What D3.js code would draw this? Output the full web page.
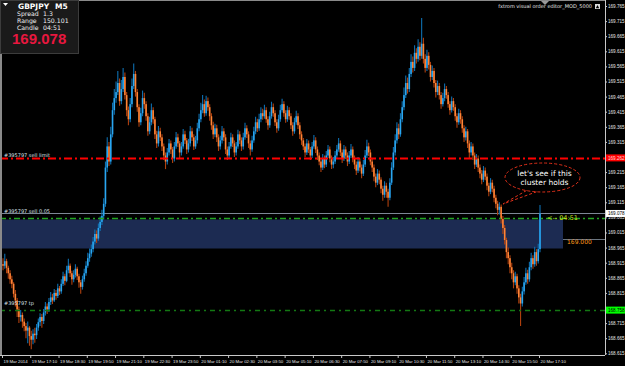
<!DOCTYPE html>
<html><head><meta charset="utf-8">
<script src="https://cdn.jsdelivr.net/npm/d3@7/dist/d3.min.js"></script>
<style>html,body{margin:0;padding:0;background:#000;overflow:hidden}svg{display:block}</style>
</head><body><svg id="c" width="625" height="366"></svg>
<script>
const symbol = "GBPJPY", timeframe = "M5";
const infoLabels = ["Spread", "Range", "Candle"];
const infoValues = ["1.3", "150.101", "04:51"];
const bidPrice = 169.078;
const firstOpen = 168.910;
const closes = [
168.905,168.920,168.898,168.880,168.860,168.845,168.812,168.790,168.760,168.735,
168.742,168.720,168.705,168.690,168.700,168.672,168.660,168.680,168.675,168.700,
168.718,168.735,168.722,168.750,168.770,168.760,168.785,168.800,168.790,168.815,
168.805,168.830,168.820,168.845,168.870,168.855,168.890,168.905,168.880,168.860,
168.875,168.895,168.870,168.850,168.835,168.860,168.880,168.905,168.930,168.945,
168.960,168.985,169.010,168.995,169.030,169.050,169.070,169.110,169.230,169.300,
169.250,169.340,169.420,169.460,169.480,169.510,169.450,169.490,169.530,169.470,
169.420,169.390,169.440,169.500,169.540,169.480,169.430,169.380,169.410,169.460,
169.440,169.400,169.350,169.380,169.420,169.390,169.340,169.310,169.350,169.330,
169.300,169.270,169.250,169.280,169.310,169.290,169.260,169.300,169.330,169.310,
169.280,169.300,169.340,169.320,169.290,169.310,169.350,169.330,169.300,169.320,
169.360,169.390,169.420,169.440,169.410,169.450,169.430,169.400,169.370,169.340,
169.360,169.330,169.300,169.320,169.350,169.330,169.290,169.270,169.300,169.330,
169.310,169.280,169.300,169.340,169.320,169.300,169.330,169.360,169.340,169.310,
169.290,169.320,169.350,169.380,169.360,169.390,169.410,169.400,169.420,169.390,
169.370,169.400,169.430,169.410,169.380,169.360,169.390,169.420,169.440,169.410,
169.390,169.420,169.400,169.370,169.350,169.380,169.400,169.370,169.340,169.320,
169.300,169.280,169.310,169.290,169.270,169.300,169.320,169.290,169.270,169.250,
169.230,169.260,169.240,169.270,169.290,169.260,169.240,169.250,169.270,169.290,
169.310,169.280,169.260,169.290,169.270,169.250,169.270,169.290,169.260,169.240,
169.220,169.250,169.230,169.210,169.240,169.270,169.300,169.280,169.250,169.230,
169.200,169.180,169.210,169.190,169.160,169.140,169.170,169.150,169.130,169.180,
169.230,169.280,169.320,169.360,169.340,169.390,169.430,169.470,169.510,169.490,
169.540,169.580,169.560,169.610,169.590,169.630,169.600,169.640,169.590,169.560,
169.600,169.570,169.530,169.550,169.510,169.480,169.500,169.470,169.440,169.460,
169.490,169.470,169.440,169.420,169.450,169.430,169.400,169.380,169.410,169.390,
169.360,169.330,169.350,169.310,169.280,169.300,169.270,169.240,169.260,169.230,
169.210,169.190,169.220,169.200,169.170,169.150,169.180,169.160,169.130,169.110,
169.090,169.100,169.060,169.030,168.990,168.950,168.930,168.900,168.880,168.850,
168.870,168.830,168.800,168.780,168.820,168.850,168.880,168.860,168.900,168.930,
168.910,168.950,168.920,168.960,169.078];
const highs = [
168.930,168.945,168.928,168.905,168.890,168.872,168.850,168.825,168.798,168.770,
168.758,168.750,168.730,168.715,168.720,168.705,168.690,168.695,168.700,168.712,
168.730,168.748,168.745,168.762,168.785,168.780,168.798,168.818,168.812,168.828,
168.825,168.845,168.838,168.860,168.885,168.878,168.905,168.928,168.912,168.888,
168.890,168.910,168.902,168.878,168.858,168.872,168.895,168.920,168.948,168.962,
168.975,169.000,169.025,169.022,169.045,169.068,169.090,169.128,169.250,169.330,
169.315,169.365,169.445,169.490,169.515,169.550,169.525,169.520,169.560,169.545,
169.480,169.432,169.460,169.525,169.575,169.550,169.490,169.440,169.428,169.485,
169.478,169.450,169.410,169.398,169.442,169.430,169.398,169.352,169.368,169.362,
169.340,169.310,169.280,169.295,169.325,169.320,169.298,169.315,169.348,169.342,
169.318,169.315,169.358,169.352,169.328,169.325,169.368,169.362,169.340,169.335,
169.378,169.408,169.445,169.470,169.455,169.468,169.462,169.440,169.410,169.382,
169.375,169.372,169.340,169.335,169.368,169.360,169.340,169.300,169.315,169.345,
169.340,169.320,169.315,169.355,169.350,169.330,169.345,169.378,169.370,169.350,
169.320,169.335,169.365,169.398,169.392,169.408,169.430,169.425,169.438,169.430,
169.400,169.415,169.448,169.442,169.420,169.390,169.405,169.438,169.458,169.450,
169.420,169.435,169.430,169.410,169.380,169.395,169.418,169.410,169.380,169.350,
169.328,169.310,169.325,169.320,169.298,169.315,169.338,169.330,169.300,169.280,
169.262,169.275,169.270,169.285,169.305,169.300,169.270,169.265,169.285,169.305,
169.328,169.320,169.290,169.305,169.300,169.280,169.285,169.308,169.300,169.270,
169.250,169.265,169.260,169.240,169.255,169.288,169.322,169.312,169.290,169.260,
169.240,169.210,169.225,169.220,169.198,169.170,169.185,169.180,169.160,169.195,
169.248,169.298,169.340,169.380,169.375,169.410,169.450,169.495,169.535,169.528,
169.560,169.605,169.598,169.635,169.625,169.655,169.645,169.725,169.660,169.605,
169.620,169.612,169.580,169.568,169.560,169.520,169.518,169.510,169.480,169.478,
169.508,169.500,169.480,169.450,169.465,169.460,169.440,169.410,169.425,169.420,
169.400,169.370,169.365,169.358,169.320,169.315,169.310,169.280,169.275,169.270,
169.240,169.222,169.235,169.230,169.210,169.180,169.195,169.190,169.170,169.140,
169.120,169.115,169.108,169.070,169.040,168.998,168.965,168.940,168.915,168.890,
168.885,168.878,168.840,168.812,168.835,168.868,168.898,168.892,168.918,168.948,
168.940,168.968,168.960,168.978,169.106];
const lows = [
168.890,168.895,168.880,168.862,168.845,168.830,168.800,168.770,168.735,168.715,
168.720,168.700,168.688,168.665,168.648,168.640,168.628,168.645,168.650,168.662,
168.690,168.705,168.700,168.712,168.740,168.745,168.752,168.775,168.778,168.785,
168.792,168.798,168.808,168.812,168.838,168.840,168.850,168.880,168.868,168.842,
168.850,168.866,168.858,168.832,168.812,168.826,168.852,168.872,168.898,168.918,
168.935,168.950,168.975,168.980,168.988,169.020,169.040,169.058,169.100,169.215,
169.235,169.240,169.330,169.405,169.445,169.470,169.435,169.440,169.480,169.455,
169.400,169.370,169.380,169.430,169.490,169.465,169.415,169.365,169.370,169.400,
169.425,169.385,169.335,169.340,169.370,169.375,169.325,169.295,169.300,169.318,
169.285,169.255,169.225,169.240,169.270,169.275,169.245,169.250,169.292,169.298,
169.262,169.270,169.292,169.308,169.275,169.280,169.300,169.318,169.288,169.292,
169.310,169.350,169.380,169.410,169.398,169.402,169.418,169.385,169.355,169.325,
169.330,169.315,169.285,169.290,169.310,169.318,169.275,169.255,169.262,169.292,
169.298,169.265,169.270,169.292,169.308,169.285,169.290,169.322,169.328,169.295,
169.270,169.282,169.312,169.340,169.348,169.352,169.380,169.388,169.392,169.378,
169.355,169.362,169.392,169.398,169.368,169.345,169.352,169.382,169.412,169.398,
169.378,169.382,169.388,169.358,169.335,169.342,169.372,169.358,169.325,169.305,
169.288,169.265,169.272,169.278,169.255,169.262,169.292,169.278,169.255,169.238,
169.215,169.222,169.228,169.232,169.262,169.248,169.225,169.228,169.242,169.262,
169.282,169.268,169.245,169.252,169.258,169.235,169.242,169.262,169.248,169.225,
169.205,169.212,169.218,169.195,169.202,169.232,169.262,169.268,169.238,169.215,
169.185,169.165,169.172,169.175,169.145,169.120,169.130,169.130,169.100,169.122,
169.172,169.222,169.270,169.310,169.325,169.332,169.380,169.420,169.460,169.475,
169.480,169.530,169.545,169.550,169.575,169.580,169.585,169.590,169.575,169.545,
169.550,169.555,169.515,169.520,169.495,169.462,169.470,169.455,169.425,169.432,
169.450,169.458,169.428,169.405,169.412,169.418,169.385,169.362,169.372,169.375,
169.345,169.315,169.320,169.295,169.262,169.270,169.255,169.225,169.232,169.215,
169.195,169.175,169.182,169.188,169.155,169.135,169.142,169.148,169.115,169.095,
169.072,169.075,169.045,169.010,168.975,168.930,168.910,168.880,168.860,168.830,
168.840,168.812,168.780,168.705,168.770,168.810,168.842,168.845,168.852,168.890,
168.895,168.902,168.905,168.912,168.950];
const timeLabels = ["19 Mar 2014","19 Mar 17:10","19 Mar 18:30","19 Mar 19:50","19 Mar 21:10",
"19 Mar 22:30","19 Mar 23:50","20 Mar 01:10","20 Mar 02:30","20 Mar 03:50","20 Mar 05:10",
"20 Mar 06:30","20 Mar 07:50","20 Mar 09:10","20 Mar 10:30","20 Mar 11:50","20 Mar 13:10",
"20 Mar 14:30","20 Mar 15:50","20 Mar 17:10"];
const barsPerLabel = 16;
const priceTicks = [169.765,169.715,169.665,169.615,169.565,169.515,169.465,169.415,169.365,169.315,
169.265,169.215,169.165,169.115,169.065,169.015,168.965,168.915,168.865,168.815,168.765,168.715,168.665,168.615];
const sellLimitPrice = 169.262;
const entryPrice = 169.063;
const takeProfitPrice = 168.758;
const zoneTop = 169.058, zoneBottom = 168.962;
const zoneLevel = 168.995, zoneLevelText = "169.000";
const orderLabels = ["#395797 sell limit", "#395797 sell 0.05", "#395797 tp"];
const timerText = "<-- 04:51";
const noteLines = ["let's see if this", "cluster holds"];
const indicatorName = "fxtrom visual order editor_MOD_5000";

const svg = d3.select("#c");
const W = 625, H = 366, axisX = 605, axisY = 355;
const n = closes.length;
const x = d3.scaleLinear().domain([0, n - 1]).range([3, 540]);
const y = d3.scaleLinear().domain([168.615, 169.765]).range([353.3, 6]);
const font = "Tahoma, 'DejaVu Sans', Arial, sans-serif";
const small = "'Liberation Sans', Arial, sans-serif";
const fmt = d3.format(".3f");

svg.append("rect").attr("width", W).attr("height", H).attr("fill", "#000");

// zone rectangle
svg.append("rect").attr("x", 0).attr("y", y(zoneTop)).attr("width", 563)
  .attr("height", y(zoneBottom) - y(zoneTop)).attr("fill", "#1c2b52");

// bid line
svg.append("line").attr("x1", 0).attr("x2", axisX).attr("y1", Math.round(y(bidPrice)) + 0.5)
  .attr("y2", Math.round(y(bidPrice)) + 0.5).attr("stroke", "#7d8796").attr("stroke-width", 1);
// zone level line
svg.append("line").attr("x1", 563).attr("x2", axisX).attr("y1", Math.round(y(zoneLevel)) + 0.5)
  .attr("y2", Math.round(y(zoneLevel)) + 0.5).attr("stroke", "#6a7580").attr("stroke-width", 1);

// candles
const data = closes.map((c, i) => ({i, o: i ? closes[i - 1] : firstOpen, h: highs[i], l: lows[i], c}));
const cg = svg.append("g");
data.forEach(d => {
  const up = d.c >= d.o;
  const cx = x(d.i);
  cg.append("line").attr("x1", cx).attr("x2", cx).attr("y1", y(d.h)).attr("y2", y(d.l))
    .attr("stroke", up ? "#0e6fb0" : "#b0400e").attr("stroke-width", 1.1);
  const top = y(Math.max(d.o, d.c)), bot = y(Math.min(d.o, d.c));
  cg.append("rect").attr("x", cx - 0.8).attr("width", 1.6).attr("y", top)
    .attr("height", Math.max(1, bot - top)).attr("fill", up ? "#2aa6f0" : "#ff8436");
});

// order lines
function dashLine(price, color, w, dash) {
  const yy = Math.round(y(price)) + 0.5;
  svg.append("line").attr("x1", 0).attr("x2", axisX).attr("y1", yy).attr("y2", yy)
    .attr("stroke", color).attr("stroke-width", w).attr("stroke-dasharray", dash);
}
dashLine(sellLimitPrice, "#ff0000", 2, "8,3,2,3");
dashLine(entryPrice, "#22a522", 1.6, "6,3,2,3");
dashLine(takeProfitPrice, "#137813", 1.4, "5,4,2,4");

// order text labels
[[sellLimitPrice, orderLabels[0]], [entryPrice + 0.012, orderLabels[1]], [takeProfitPrice + 0.012, orderLabels[2]]]
  .forEach(([p, t]) => {
    svg.append("text").attr("x", 4).attr("y", y(p) - 1).attr("fill", "#dde3ea")
      .attr("font-family", font).attr("font-size", 5).text(t);
  });

// timer
svg.append("text").attr("x", 547).attr("y", y(entryPrice) + 2).attr("fill", "#c9e21a")
  .attr("font-family", font).attr("font-size", 6.5).text(timerText);

// zone level text
svg.append("text").attr("x", 567).attr("y", y(zoneLevel) + 5.5).attr("fill", "#ff9a1a")
  .attr("font-family", font).attr("font-size", 6).text(zoneLevelText);

// borders
svg.append("line").attr("x1", 1).attr("x2", 1).attr("y1", 0).attr("y2", axisY).attr("stroke", "#8a8a8a").attr("stroke-width", 2);
svg.append("line").attr("x1", 0).attr("x2", axisX).attr("y1", 0.5).attr("y2", 0.5).attr("stroke", "#8a8a8a").attr("stroke-width", 1);

// price tags on axis
const tags = [[sellLimitPrice, "#ff0000", "#ffd6d6"], [bidPrice, "#ffffff", "#000000"], [takeProfitPrice, "#00ff00", "#000000"]];

// axes
const yAxis = d3.axisRight(y).tickValues(priceTicks).tickFormat(fmt).tickSize(2).tickSizeOuter(0);
const ya = svg.append("g").attr("transform", `translate(${axisX},0)`).call(yAxis);
ya.select(".domain").attr("stroke", "#c8c8c8").attr("d", `M0.5,0V${axisY}`);
ya.selectAll(".tick line").attr("stroke", "#c8c8c8");
ya.selectAll(".tick text").attr("fill", "#e6e6e6").attr("font-family", small).attr("font-size", 4.6)
  .attr("x", 3)
  .style("display", d => tags.some(t => t[0] !== bidPrice && Math.abs(y(t[0]) - y(d)) < 5) ? "none" : null);

const xTicks = timeLabels.map((_, k) => k * barsPerLabel);
const xAxis = d3.axisBottom(x).tickValues(xTicks).tickFormat((d, k) => timeLabels[k]).tickSize(3).tickSizeOuter(0);
const xa = svg.append("g").attr("transform", `translate(0,${axisY})`).call(xAxis);
xa.select(".domain").attr("stroke", "#c8c8c8").attr("d", `M0,0.5H${axisX}`);
xa.selectAll(".tick line").attr("stroke", "#c8c8c8").attr("transform", "translate(-1,0)");
xa.selectAll(".tick text").attr("fill", "#e6e6e6").attr("font-family", small).attr("font-size", 4.3)
  .attr("text-anchor", "start").attr("dx", 0).attr("y", 4.5);

tags.forEach(([price, bg, fg]) => {
  const yy = y(price);
  svg.append("rect").attr("x", axisX + 1).attr("y", yy - 3.5).attr("width", W - axisX - 1).attr("height", 7).attr("fill", bg);
  svg.append("text").attr("x", axisX + 3).attr("y", yy + 1.8).attr("fill", fg).attr("font-family", small)
    .attr("font-size", 4.6).text(fmt(price));
});

// callout ellipse
const cx0 = 542.5, cy0 = 177.5, rx = 37.5, ry = 14.5;
svg.append("path").attr("d",
  `M ${cx0 - 16},${cy0 + ry - 1.5} L 503,204 L ${cx0 - 6},${cy0 + ry - 0.2}`)
  .attr("fill", "none").attr("stroke", "#e0301a").attr("stroke-width", 1).attr("stroke-dasharray", "3,2");
svg.append("ellipse").attr("cx", cx0).attr("cy", cy0).attr("rx", rx).attr("ry", ry)
  .attr("fill", "none").attr("stroke", "#e0301a").attr("stroke-width", 1).attr("stroke-dasharray", "3,2");
noteLines.forEach((t, k) => {
  svg.append("text").attr("x", cx0 + 2).attr("y", 176 + k * 8.5).attr("text-anchor", "middle")
    .attr("fill", "#ffffff").attr("font-family", font).attr("font-size", 7.5).text(t);
});

// indicator name
svg.append("text").attr("x", 592).attr("y", 8).attr("text-anchor", "end").attr("fill", "#e6e6e6")
  .attr("font-family", font).attr("font-size", 5).text(indicatorName);
svg.append("rect").attr("x", 595).attr("y", 4).attr("width", 5).attr("height", 5).attr("fill", "#dcdcdc");
svg.append("path").attr("d", "M595.8,8.2 L597.5,5 L599.2,8.2 Z").attr("fill", "#000");
svg.append("path").attr("d", "M541,1 L549,1 L545,5 Z").attr("fill", "#9a9a9a");

// info panel
svg.append("rect").attr("x", 0.5).attr("y", 0.5).attr("width", 78).attr("height", 53)
  .attr("fill", "#1a1a1a").attr("stroke", "#3c3c3c");
svg.append("path").attr("d", "M3,3 L8,3 L5.5,6 Z").attr("fill", "#ffffff");
svg.append("text").attr("x", 18).attr("y", 9).attr("fill", "#fff").attr("font-family", font)
  .attr("font-weight", "bold").attr("font-size", 7.5).text(symbol);
svg.append("text").attr("x", 55).attr("y", 9).attr("fill", "#fff").attr("font-family", font)
  .attr("font-weight", "bold").attr("font-size", 7.5).text(timeframe);
infoLabels.forEach((t, k) => {
  svg.append("text").attr("x", 17).attr("y", 16 + k * 7).attr("fill", "#f0f0f0").attr("font-family", font)
    .attr("font-size", 6.2).text(t);
  svg.append("text").attr("x", 43).attr("y", 16 + k * 7).attr("fill", "#f0f0f0").attr("font-family", font)
    .attr("font-size", 6.2).text(infoValues[k]);
});
svg.append("text").attr("x", 12).attr("y", 44).attr("fill", "#e8173f").attr("font-family", "Arial, 'Liberation Sans', sans-serif")
  .attr("font-weight", "bold").attr("font-size", 15).text(fmt(bidPrice));
</script></body></html>
